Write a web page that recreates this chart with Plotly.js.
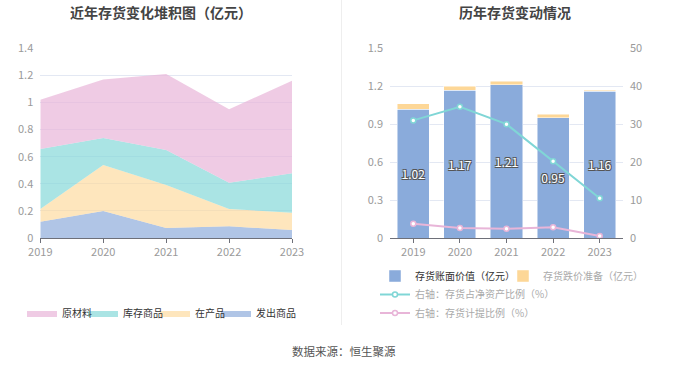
<!DOCTYPE html>
<html>
<head>
<meta charset="utf-8">
<script src="https://cdn.plot.ly/plotly-3.0.1.min.js"></script>
<style>
html,body{margin:0;padding:0;background:#fff;}
#chart{width:680px;height:367px;}
</style>
</head>
<body>
<div id="chart"></div>
<script>
// ---- data ----
const years = ['2019', '2020', '2021', '2022', '2023'];
// left: stacked inventory composition (亿元)
const shippedGoods = [0.12, 0.20, 0.074, 0.086, 0.059];   // 发出商品
const wip = [0.094, 0.339, 0.317, 0.128, 0.128];          // 在产品
const finishedGoods = [0.443, 0.199, 0.258, 0.194, 0.29]; // 库存商品
const rawMaterials = [0.363, 0.432, 0.561, 0.542, 0.683]; // 原材料
// right: inventory changes
const bookValue = [1.02, 1.17, 1.21, 0.95, 1.16];          // 存货账面价值（亿元）
const provision = [0.04, 0.03, 0.03, 0.03, 0.01];          // 存货跌价准备（亿元）
const invToNetAssets = [31.0, 34.6, 30.0, 20.2, 10.5];     // 存货占净资产比例（%）
const provisionRatio = [3.77, 2.64, 2.46, 2.81, 0.53];     // 存货计提比例（%）
const bookValueLabels = ['1.02', '1.17', '1.21', '0.95', '1.16'];

const FONT = '"Noto Sans CJK SC", "Noto Sans", sans-serif';
const W = 680, H = 367;
const px = v => v / W;
const py = v => (H - v) / H;

const pink = '#e8b5d8', cyan = '#86d8d8', yellow = '#fdd899', blue = '#8eacdc';
const pinkF = 'rgba(232,181,216,0.7)', cyanF = 'rgba(134,216,216,0.7)', yellowF = 'rgba(253,216,153,0.65)', blueF = 'rgba(142,172,220,0.7)';

function area(name, y, line, fill, lg) {
  return {
    type: 'scatter', mode: 'lines', name: name, x: years, y: y,
    stackgroup: 'inv', line: {width: 0, color: line}, fillcolor: fill,
    xaxis: 'x', yaxis: 'y', legend: lg, hoverinfo: 'skip'
  };
}

const traces = [
  area('发出商品', shippedGoods, blue, blueF, 'legend5'),
  area('在产品', wip, yellow, yellowF, 'legend6'),
  area('库存商品', finishedGoods, cyan, cyanF, 'legend7'),
  area('原材料', rawMaterials, pink, pinkF, 'legend8'),
  {
    type: 'bar', name: '存货账面价值（亿元）', x: years, y: bookValue,
    xaxis: 'x2', yaxis: 'y2', marker: {color: '#8aabdb', line: {color: 'rgba(255,255,255,0.6)', width: 0.8}},
    text: bookValueLabels, textposition: 'inside', insidetextanchor: 'middle', constraintext: 'none',
    textfont: {color: '#fff', size: 12, family: FONT, shadow: '-1px -1px 0 #555, 1px -1px 0 #555, -1px 1px 0 #555, 1px 1px 0 #555'},
    legend: 'legend', hoverinfo: 'skip'
  },
  {
    type: 'bar', name: '存货跌价准备（亿元）', x: years, y: provision,
    xaxis: 'x2', yaxis: 'y2', marker: {color: '#fdd797', line: {color: 'rgba(255,255,255,0.6)', width: 0.8}},
    legend: 'legend2', hoverinfo: 'skip'
  },
  {
    type: 'scatter', mode: 'lines+markers', name: '右轴：存货占净资产比例（%）', x: years, y: invToNetAssets,
    xaxis: 'x2', yaxis: 'y3', line: {color: '#80d6d6', width: 2},
    marker: {symbol: 'circle', size: 5, color: '#ffffff', line: {color: '#80d6d6', width: 1.5}},
    legend: 'legend3', hoverinfo: 'skip'
  },
  {
    type: 'scatter', mode: 'lines+markers', name: '右轴：存货计提比例（%）', x: years, y: provisionRatio,
    xaxis: 'x2', yaxis: 'y3', line: {color: '#e8b5d8', width: 2},
    marker: {symbol: 'circle', size: 5, color: '#ffffff', line: {color: '#e8b5d8', width: 1.5}},
    legend: 'legend4', hoverinfo: 'skip'
  }
];

const tickFont = {family: FONT, size: 11, color: '#9a9a9a'};
const yDom = [py(238), py(48.3)];

function leg(xText, yCenter, color) {
  return {
    orientation: 'v', x: px(xText - 40), y: py(yCenter), xanchor: 'left', yanchor: 'middle',
    font: {family: FONT, size: 10, color: color}, itemwidth: 30,
    bgcolor: 'rgba(0,0,0,0)', itemclick: false, itemdoubleclick: false
  };
}

const layout = {
  width: W, height: H,
  margin: {l: 0, r: 0, t: 0, b: 0},
  paper_bgcolor: '#fff', plot_bgcolor: 'rgba(0,0,0,0)',
  font: {family: FONT},
  showlegend: true,
  barmode: 'stack', bargap: 0.31,
  xaxis: {
    domain: [px(40.3), px(292)], type: 'category', range: [0, 4],
    showgrid: false, zeroline: false, showline: true, linecolor: '#6e7079', linewidth: 1,
    ticks: 'outside', ticklen: 4, tickcolor: '#6e7079', tickfont: tickFont, fixedrange: true
  },
  yaxis: {
    domain: yDom, range: [0, 1.4], dtick: 0.2, showgrid: true, gridcolor: '#e3e8f3', gridwidth: 1,
    zeroline: false, showline: false, tickfont: tickFont, ticks: '', ticklabelstandoff: 6, fixedrange: true
  },
  xaxis2: {
    domain: [px(390), px(623)], type: 'category', anchor: 'y2',
    showgrid: false, zeroline: false, showline: true, linecolor: '#6e7079', linewidth: 1,
    ticks: 'outside', ticklen: 4, tickcolor: '#6e7079', tickfont: tickFont, fixedrange: true
  },
  yaxis2: {
    domain: yDom, anchor: 'x2', range: [0, 1.5], dtick: 0.3, showgrid: true, gridcolor: '#e3e8f3',
    zeroline: false, showline: false, tickfont: tickFont, ticks: '', ticklabelstandoff: 6, fixedrange: true
  },
  yaxis3: {
    overlaying: 'y2', side: 'right', anchor: 'x2', range: [0, 50], dtick: 10, showgrid: false,
    zeroline: false, showline: false, tickfont: tickFont, ticks: '', ticklabelstandoff: 6, fixedrange: true
  },
  // right-chart legends
  legend: leg(415, 276, '#333'),
  legend2: leg(543, 276, '#aaa'),
  legend3: leg(415, 294.5, '#aaa'),
  legend4: leg(415, 313, '#aaa'),
  // left-chart legends
  legend8: leg(62, 313, '#333'),
  legend7: leg(123, 313, '#333'),
  legend6: leg(195, 313, '#333'),
  legend5: leg(256, 313, '#333'),
  shapes: [
    {type: 'line', xref: 'paper', yref: 'paper', x0: px(341.5), x1: px(341.5), y0: py(0), y1: py(325),
     line: {color: '#eeeeee', width: 1}}
  ],
  annotations: [
    {text: '<b>近年存货变化堆积图（亿元）</b>', xref: 'paper', yref: 'paper', x: px(161), y: py(12),
     xanchor: 'center', yanchor: 'middle', showarrow: false, font: {family: FONT, size: 14, color: '#444'}},
    {text: '<b>历年存货变动情况</b>', xref: 'paper', yref: 'paper', x: px(514.5), y: py(12),
     xanchor: 'center', yanchor: 'middle', showarrow: false, font: {family: FONT, size: 14, color: '#444'}},
    {text: '数据来源：恒生聚源', xref: 'paper', yref: 'paper', x: px(344), y: py(351),
     xanchor: 'center', yanchor: 'middle', showarrow: false, font: {family: FONT, size: 11.5, color: '#555'}}
  ]
};

Plotly.newPlot('chart', traces, layout, {displayModeBar: false, staticPlot: true});
</script>
</body>
</html>
